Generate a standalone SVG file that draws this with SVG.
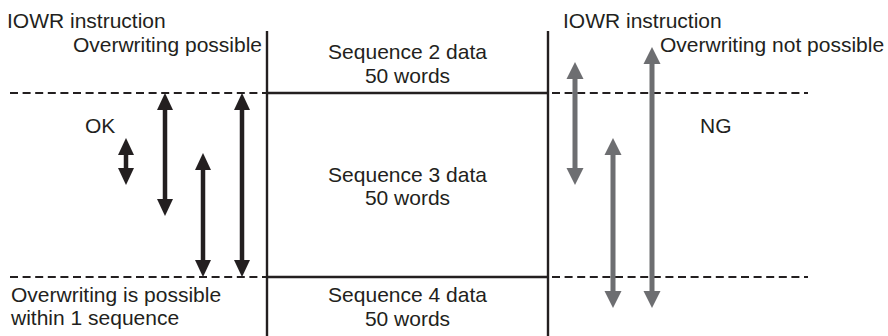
<svg xmlns="http://www.w3.org/2000/svg" width="888" height="336" viewBox="0 0 888 336">
<style>
text{font-family:"Liberation Sans",Arial,sans-serif;font-size:21px;fill:#231f20}
.mid{text-anchor:middle}
.dash{stroke:#231f20;stroke-width:2;stroke-dasharray:8 4.6;fill:none}
.solid{stroke:#231f20;stroke-width:2.4;fill:none}
.ab{stroke:#231f20;stroke-width:4.5;marker-start:url(#hb);marker-end:url(#hb)}
.ag{stroke:#6d6e71;stroke-width:5;marker-start:url(#hg);marker-end:url(#hg)}
</style>
<defs>
<marker id="hb" markerUnits="userSpaceOnUse" markerWidth="18" markerHeight="18" viewBox="-1 -9 18 18" refX="0" refY="0" orient="auto-start-reverse"><path d="M-1,-8 L16,0 L-1,8 z" fill="#231f20"/></marker>
<marker id="hg" markerUnits="userSpaceOnUse" markerWidth="18" markerHeight="18" viewBox="-1 -9 18 18" refX="0" refY="0" orient="auto-start-reverse"><path d="M-1,-8.5 L16,0 L-1,8.5 z" fill="#6d6e71"/></marker>
</defs>
<g id="frame">
<line class="solid" x1="267" y1="31" x2="267" y2="336"/>
<line class="solid" x1="548" y1="31" x2="548" y2="336"/>
<line class="solid" x1="267" y1="93" x2="548" y2="93"/>
<line class="solid" x1="267" y1="277" x2="548" y2="277"/>
<line class="dash" x1="10" y1="93" x2="266" y2="93"/>
<line class="dash" x1="10" y1="277" x2="266" y2="277"/>
<line class="dash" x1="552" y1="93" x2="808" y2="93"/>
<line class="dash" x1="552" y1="277" x2="808" y2="277"/>
</g>
<g id="seq2"><text class="mid" x="407.5" y="59">Sequence 2 data</text><text class="mid" x="407.5" y="83">50 words</text></g>
<g id="seq3"><text class="mid" x="407.5" y="182">Sequence 3 data</text><text class="mid" x="407.5" y="205">50 words</text></g>
<g id="seq4"><text class="mid" x="407.5" y="302">Sequence 4 data</text><text class="mid" x="407.5" y="326">50 words</text></g>
<g id="labels-left">
<text x="7" y="28">IOWR instruction</text>
<text x="262" y="52" text-anchor="end">Overwriting possible</text>
<text x="85" y="133">OK</text>
<text x="11" y="302">Overwriting is possible</text>
<text x="11" y="325">within 1 sequence</text>
</g>
<g id="labels-right">
<text x="563" y="28">IOWR instruction</text>
<text x="660" y="52">Overwriting not possible</text>
<text x="700" y="133">NG</text>
</g>
<g id="connectors">
<line class="ab" x1="126" y1="154" x2="126" y2="169"/>
<line class="ab" x1="165" y1="109" x2="165" y2="200"/>
<line class="ab" x1="203" y1="169" x2="203" y2="261"/>
<line class="ab" x1="242" y1="109" x2="242" y2="261"/>
<line class="ag" x1="575" y1="78" x2="575" y2="169"/>
<line class="ag" x1="613" y1="154" x2="613" y2="292"/>
<line class="ag" x1="652" y1="63" x2="652" y2="292"/>
</g>
</svg>
